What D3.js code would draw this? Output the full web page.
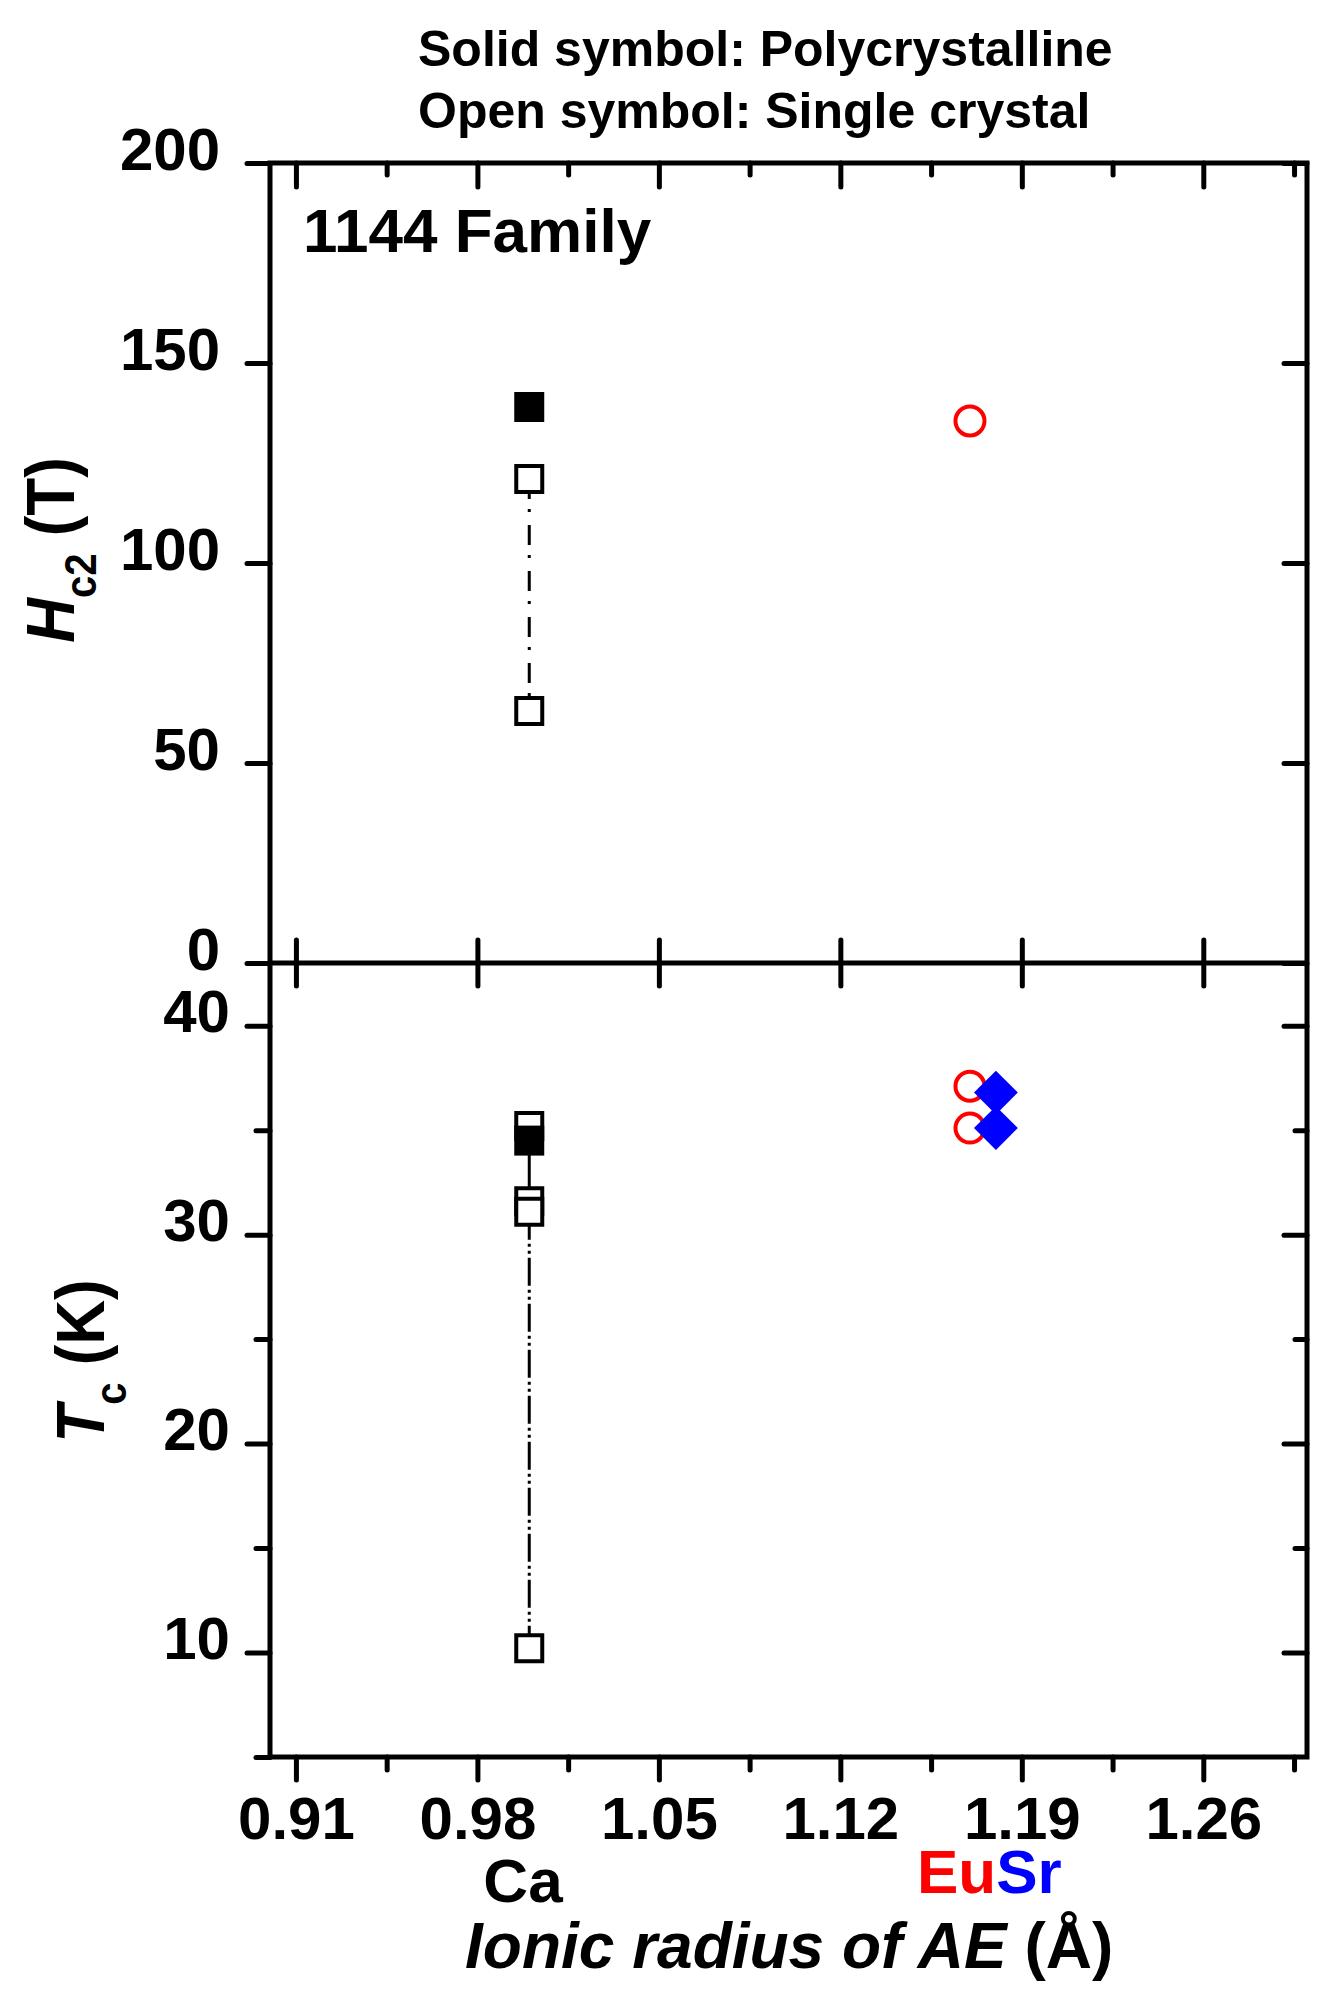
<!DOCTYPE html>
<html>
<head>
<meta charset="utf-8">
<script src="https://cdn.jsdelivr.net/npm/d3@7"></script>
<style>
  body { margin: 0; background: #fff; }
  text { font-family: "Liberation Sans", Arial, sans-serif; font-weight: bold; }
</style>
</head>
<body>
<div id="chart-area"></div>
<script>
/*
*    1144 family: Hc2 and Tc vs ionic radius
*/

// categories
var elements = ["Ca", "Eu", "Sr"];
var radius = [1.00, 1.17, 1.18];

// Hc2 (T)
var hc2CaPoly = [139];
var hc2CaSingle = [121, 63];
var hc2EuSingle = [135.5];

// Tc (K)
var tcCaSingle = [35.2, 31.6, 31.1, 10.2];
var tcCaPoly = [34.5];
var tcEuSingle = [37.1, 35.1];
var tcSrPoly = [36.8, 35.1];

// ticks
var xTicks = [0.91, 0.98, 1.05, 1.12, 1.19, 1.26];
var xMinor = [0.945, 1.015, 1.085, 1.155, 1.225, 1.295];
var hc2Ticks = [0, 50, 100, 150, 200];
var tcTicks = [10, 20, 30, 40];
var tcMinor = [5, 15, 25, 35];

var L = 270, R = 1307, T = 163, M = 963, B = 1757;

var svg = d3.select("#chart-area").append("svg")
    .attr("width", 1340)
    .attr("height", 2000);

var x = d3.scaleLinear().domain([0.90, 1.30]).range([L, R]);
var yTop = d3.scaleLinear().domain([0, 200]).range([M, T]);
var yBot = d3.scaleLinear().domain([5, 43]).range([B, M]);

function styleAxis(g) {
    g.select(".domain").remove();
    g.selectAll(".tick line").attr("stroke", "#000").attr("stroke-width", 5).attr("stroke-linecap", "round");
    g.selectAll(".tick text").filter(function() { return this.textContent === ""; }).remove();
    g.selectAll(".tick text").attr("fill", "#000").attr("font-size", 60)
        .attr("font-family", "Liberation Sans, Arial, sans-serif").attr("font-weight", "bold");
}

// --- left / right axes, top panel
svg.append("g").attr("transform", "translate(" + L + ",0)")
    .call(d3.axisLeft(yTop).tickValues(hc2Ticks).tickSize(23).tickPadding(27).tickFormat(d3.format("d")))
    .call(styleAxis)
    .selectAll(".tick text").attr("y", -13);
svg.append("g").attr("transform", "translate(" + R + ",0)")
    .call(d3.axisLeft(yTop).tickValues(hc2Ticks).tickSize(23).tickFormat(""))
    .call(styleAxis);

// --- left / right axes, bottom panel
svg.append("g").attr("transform", "translate(" + L + ",0)")
    .call(d3.axisLeft(yBot).tickValues(tcTicks).tickSize(23).tickPadding(17).tickFormat(d3.format("d")))
    .call(styleAxis)
    .selectAll(".tick text").attr("y", -13);
svg.append("g").attr("transform", "translate(" + L + ",0)")
    .call(d3.axisLeft(yBot).tickValues(tcMinor).tickSize(14).tickFormat(""))
    .call(styleAxis);
svg.append("g").attr("transform", "translate(" + R + ",0)")
    .call(d3.axisLeft(yBot).tickValues(tcTicks).tickSize(23).tickFormat(""))
    .call(styleAxis);
svg.append("g").attr("transform", "translate(" + R + ",0)")
    .call(d3.axisLeft(yBot).tickValues(tcMinor.slice(1)).tickSize(12).tickFormat(""))
    .call(styleAxis);

// --- top x axis (inward ticks)
svg.append("g").attr("transform", "translate(0," + T + ")")
    .call(d3.axisBottom(x).tickValues(xTicks).tickSize(24).tickFormat(""))
    .call(styleAxis);
svg.append("g").attr("transform", "translate(0," + T + ")")
    .call(d3.axisBottom(x).tickValues(xMinor).tickSize(12).tickFormat(""))
    .call(styleAxis);

// --- middle shared axis (crossing ticks)
svg.append("g").attr("transform", "translate(0," + M + ")")
    .call(d3.axisBottom(x).tickValues(xTicks).tickSize(23).tickFormat(""))
    .call(styleAxis);
svg.append("g").attr("transform", "translate(0," + M + ")")
    .call(d3.axisTop(x).tickValues(xTicks).tickSize(23).tickFormat(""))
    .call(styleAxis);

// --- bottom x axis
svg.append("g").attr("transform", "translate(0," + B + ")")
    .call(d3.axisBottom(x).tickValues(xTicks).tickSize(23).tickPadding(16).tickFormat(d3.format(".2f")))
    .call(styleAxis);
svg.append("g").attr("transform", "translate(0," + B + ")")
    .call(d3.axisBottom(x).tickValues(xMinor).tickSize(13).tickFormat(""))
    .call(styleAxis);

// frame
svg.append("rect")
    .attr("x", L).attr("y", T).attr("width", R - L).attr("height", B - T)
    .attr("fill", "none").attr("stroke", "#000").attr("stroke-width", 5);
svg.append("line")
    .attr("x1", L).attr("x2", R).attr("y1", M).attr("y2", M)
    .attr("stroke", "#000").attr("stroke-width", 5);

// connecting lines
var lineTop = d3.line().x((d)=>{return x(d[0]);}).y((d)=>{return yTop(d[1]);});
var lineBot = d3.line().x((d)=>{return x(d[0]);}).y((d)=>{return yBot(d[1]);});

svg.append("path")
    .attr("d", lineTop(hc2CaSingle.map((v)=>{return [radius[0], v];})))
    .attr("stroke", "#000").attr("stroke-width", 3).attr("fill", "none")
    .attr("stroke-dasharray", "20,10,3,13");
svg.append("path")
    .attr("d", lineBot([[radius[0], tcCaPoly[0]], [radius[0], tcCaSingle[1]]]))
    .attr("stroke", "#000").attr("stroke-width", 3).attr("fill", "none");
svg.append("path")
    .attr("d", lineBot([[radius[0], tcCaSingle[2]], [radius[0], tcCaSingle[3]]]))
    .attr("stroke", "#000").attr("stroke-width", 3).attr("fill", "none")
    .attr("stroke-dasharray", "28,4,3,4,3,4");

// markers
var square = d3.symbol().type(d3.symbolSquare);

function openSquares(vals, xv, y) {
    svg.selectAll(null).data(vals).enter().append("path")
        .attr("d", square.size(26 * 26)())
        .attr("transform", (d)=>{return "translate(" + x(xv) + "," + y(d) + ")";})
        .attr("fill", "#fff").attr("stroke", "#000").attr("stroke-width", 4);
}
function filledSquares(vals, xv, y) {
    svg.selectAll(null).data(vals).enter().append("path")
        .attr("d", square.size(30 * 30)())
        .attr("transform", (d)=>{return "translate(" + x(xv) + "," + y(d) + ")";})
        .attr("fill", "#000");
}
function openCircles(vals, xv, y) {
    svg.selectAll(null).data(vals).enter().append("circle")
        .attr("cx", x(xv)).attr("cy", (d)=>{return y(d);}).attr("r", 14.5)
        .attr("fill", "#fff").attr("stroke", "#ff0000").attr("stroke-width", 4);
}
function diamonds(vals, xv, y) {
    svg.selectAll(null).data(vals).enter().append("path")
        .attr("d", square.size(31 * 31)())
        .attr("transform", (d)=>{return "translate(" + x(xv) + "," + y(d) + ") rotate(45)";})
        .attr("fill", "#0000ff");
}

openSquares(hc2CaSingle, radius[0], yTop);
filledSquares(hc2CaPoly, radius[0], yTop);
openCircles(hc2EuSingle, radius[1], yTop);

openSquares(tcCaSingle, radius[0], yBot);
filledSquares(tcCaPoly, radius[0], yBot);
openCircles(tcEuSingle, radius[1], yBot);
diamonds(tcSrPoly, radius[2], yBot);

// texts
svg.append("text").attr("x", 418).attr("y", 66).attr("font-size", 50).text("Solid symbol: Polycrystalline");
svg.append("text").attr("x", 418).attr("y", 128).attr("font-size", 50).text("Open symbol: Single crystal");
svg.append("text").attr("x", 303).attr("y", 252).attr("font-size", 62).text("1144 Family");

svg.append("text").attr("x", 523).attr("y", 1902).attr("font-size", 62)
    .attr("text-anchor", "middle").text(elements[0]);
var eusr = svg.append("text").attr("x", 917).attr("y", 1893).attr("font-size", 62);
eusr.append("tspan").attr("fill", "#ff0000").text(elements[1]);
eusr.append("tspan").attr("fill", "#0000ff").text(elements[2]);

var xt = svg.append("text").attr("x", 465).attr("y", 1968).attr("font-size", 64);
xt.append("tspan").attr("font-style", "italic").text("Ionic radius of AE ");
xt.append("tspan").text("(Å)");

var yt1 = svg.append("text").attr("transform", "translate(74,550) rotate(-90) scale(1,1.12)")
    .attr("text-anchor", "middle").attr("font-size", 62);
yt1.append("tspan").attr("font-style", "italic").text("H");
yt1.append("tspan").attr("font-size", 40).attr("dy", 20).text("c2");
yt1.append("tspan").attr("dy", -20).text(" (T)");

var yt2 = svg.append("text").attr("transform", "translate(104,1361) rotate(-90) scale(1,1.12)")
    .attr("text-anchor", "middle").attr("font-size", 62);
yt2.append("tspan").attr("font-style", "italic").text("T");
yt2.append("tspan").attr("font-size", 40).attr("dy", 20).text("c");
yt2.append("tspan").attr("dy", -20).text(" (K)");
</script>
</body>
</html>
